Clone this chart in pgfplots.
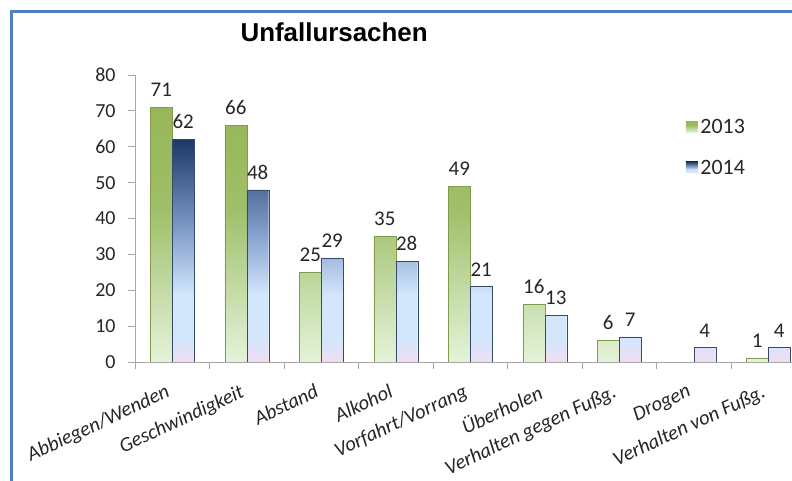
\documentclass[border=0pt]{standalone}
\usepackage{pgfplots}
\pgfplotsset{compat=1.18}
\usepackage{fontspec}
\setmainfont{Carlito}
\newfontfamily\titlefont{Liberation Sans}
\definecolor{frameblue}{HTML}{4F7FC4}
\definecolor{gtop}{HTML}{96B658}
\definecolor{gmid}{HTML}{A0BF69}
\definecolor{glow}{HTML}{C6DDAA}
\definecolor{gbot}{HTML}{E4F3D8}
\definecolor{btop}{HTML}{1E3866}
\definecolor{bmid}{HTML}{7E9BC8}
\definecolor{blight}{HTML}{D3E6FC}
\definecolor{bbot}{HTML}{F2DDF2}
\definecolor{axgray}{HTML}{A6A6A6}
\definecolor{txt}{HTML}{262626}
\pgfdeclareverticalshading{greenbar}{100bp}{color(0bp)=(gbot); color(25bp)=(gbot); color(38bp)=(glow); color(55bp)=(gmid); color(75bp)=(gtop); color(100bp)=(gtop)}
\pgfdeclareverticalshading{bluebar}{100bp}{color(0bp)=(bbot); color(25bp)=(bbot); color(30bp)=(blight); color(40bp)=(blight); color(55bp)=(bmid); color(75bp)=(btop); color(100bp)=(btop)}
\begin{document}
\begin{tikzpicture}[x=1bp,y=1bp]
\useasboundingbox (0,0) rectangle (792,481);
\draw[line width=3bp, color=frameblue] (11,-5) -- (11,469.5) -- (800,469.5);
\begin{axis}[
  at={(135bp,119bp)}, anchor=south west,
  scale only axis, width=670.5bp, height=287bp,
  xmin=-0.5, xmax=8.5, ymin=0, ymax=80,
  axis lines=left, axis line style={-, draw=axgray, line width=0.8bp},
  tick style={draw=axgray, line width=0.8bp},
  tick align=outside, major tick length=7bp,
  ytick={0,10,...,80},
  xtick={-0.5,0.5,...,8.5},
  x tick label as interval,
  xticklabels={Abbiegen/Wenden,Geschwindigkeit,Abstand,Alkohol,Vorfahrt/Vorrang,Überholen,Verhalten gegen Fußg.,Drogen,Verhalten von Fußg.,},
  xticklabel style={xshift=-7bp, yshift=-13bp, rotate=25, anchor=north east, font=\itshape\fontsize{20.5}{23}\selectfont, text=txt, inner sep=1bp},
  yticklabel style={font=\fontsize{20}{23}\selectfont, text=txt, xshift=-9bp},
  /pgf/number format/assume math mode=true,
  title={Unfallursachen},
  title style={at={(axis description cs:0.297,1.129)}, anchor=center, font=\titlefont\bfseries\fontsize{26}{30}\selectfont, text=black},
  ybar, bar width=0.295,
  nodes near coords,
  every node near coord/.append style={font=\fontsize{21}{24}\selectfont, text=txt, yshift=7bp},
  legend style={at={(axis description cs:0.817,0.862)}, anchor=north west, draw=none, fill=none, row sep=20bp, font=\fontsize{22}{25}\selectfont, text=txt, nodes={inner sep=2.5bp}},
  legend cell align=left,
  legend image code/.code={\path[#1, draw=none] (0bp,-5bp) rectangle (12bp,6bp);},
]
\addplot[bar shift=-0.1475, draw=gtop!85!black, line width=0.4bp, shading=greenbar]
  coordinates {(0,71) (1,66) (2,25) (3,35) (4,49) (5,16) (6,6) (8,1)};
\addplot[bar shift=0.1475, draw=btop!75!gray, line width=0.4bp, shading=bluebar]
  coordinates {(0,62) (1,48) (2,29) (3,28) (4,21) (5,13) (6,7) (7,4) (8,4)};
\legend{2013,2014}
\end{axis}
\end{tikzpicture}
\end{document}
